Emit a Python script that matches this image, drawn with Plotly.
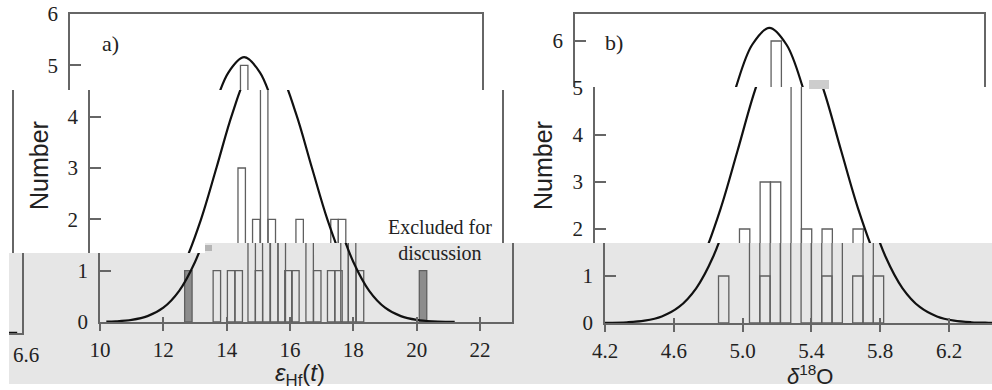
import plotly.graph_objects as go

W, H = 992, 390

# ---------------- (a) Hf isotopes ----------------
hf_bins = [13.69, 14.14, 14.38, 14.79, 15.02, 15.25, 15.50, 15.74, 15.95,
           16.17, 16.62, 16.86, 17.30, 17.53, 17.72, 17.96, 18.21]
hf_counts = [1, 1, 1, 3, 1, 2, 5, 2, 1, 1, 2, 1, 1, 1, 2, 2, 1]
hf_excl_bins = [12.79, 20.20]
hf_excl_counts = [1, 1]
hf_fit_x = [10.2, 10.5, 11.0, 11.5, 12.0, 12.5, 13.0, 13.5, 14.0, 14.5, 15.0, 15.5,
            16.0, 16.5, 17.0, 17.5, 18.0, 18.5, 19.0, 19.5, 20.0, 20.5, 21.0, 21.2]
hf_fit_y = [0.006, 0.013, 0.042, 0.115, 0.280, 0.608, 1.17, 1.99, 3.02, 4.07, 4.86, 5.16,
            4.86, 4.07, 3.02, 1.99, 1.17, 0.608, 0.280, 0.115, 0.042, 0.013, 0.004, 0.002]
hf_xticks = [10, 12, 14, 16, 18, 20, 22]
hf_yticks = [0, 1, 2, 3, 4, 5, 6]

# ---------------- (b) O isotopes ----------------
o_bins = [4.89, 5.07, 5.13, 5.19, 5.25, 5.37, 5.43, 5.49, 5.55, 5.67, 5.73, 5.79]
o_counts = [1, 2, 1, 3, 3, 6, 2, 1, 2, 1, 2, 1]
o_fit_x = [4.20, 4.33, 4.43, 4.53, 4.63, 4.73, 4.83, 4.93, 5.03, 5.13, 5.23, 5.33,
           5.43, 5.53, 5.63, 5.73, 5.83, 5.93, 6.03, 6.13, 6.23, 6.33, 6.43, 6.55]
o_fit_y = [0.003, 0.016, 0.051, 0.140, 0.341, 0.739, 1.42, 2.43, 3.68, 4.95, 5.92, 6.28,
           5.92, 4.95, 3.68, 2.43, 1.42, 0.739, 0.341, 0.140, 0.051, 0.016, 0.005, 0.001]
o_xticks = [4.2, 4.6, 5.0, 5.4, 5.8, 6.2, 6.6]
o_xtick_text = ["4.2", "4.6", "5.0", "5.4", "5.8", "6.2", "6.6"]
o_yticks = [0, 1, 2, 3, 4, 5, 6]

# ---------------- panel geometry (pixels) ----------------
PANELS = {
    "a": dict(px0=70, xv0=10.0, xscale=31.67, xmax=23.0, py0=322, yscale=51.33,
              bins=hf_bins, counts=hf_counts, width=0.235,
              excl=(hf_excl_bins, hf_excl_counts),
              fit=(hf_fit_x, hf_fit_y), xt=hf_xticks,
              xtt=[str(v) for v in hf_xticks], yt=hf_yticks),
    "b": dict(px0=575, xv0=4.2, xscale=172.0, xmax=6.58, py0=323, yscale=47.0,
              bins=o_bins, counts=o_counts, width=0.06, excl=None,
              fit=(o_fit_x, o_fit_y), xt=o_xticks, xtt=o_xtick_text, yt=o_yticks),
}


def frame_right(p, dx):
    P = PANELS[p]
    return P["px0"] + (P["xmax"] - P["xv0"]) * P["xscale"] + dx


# horizontal strips of the figure, each shifted sideways
PIECES = [
    # panel, x0, x1, y0, y1, dx, dy, left, right, top, bottom
    ("a", 70, frame_right("a", 0), 14, 90, 0, 0, True, True, True, False),
    ("a", 90, 205, 90, 253, 20, 0, True, False, False, False),
    ("a", 205, frame_right("a", 20), 90, 243, 20, 0, False, True, False, False),
    ("a", 100, 205, 253, 322, 30, 0, True, False, False, True),
    ("a", 205, frame_right("a", 30), 243, 322, 30, 0, False, True, False, True),
    ("b", 575, frame_right("b", 0), 14, 87, 0, 0, True, True, True, False),
    ("b", 595, W, 87, 243, 20, 0, True, False, False, False),
    ("b", 0, frame_right("b", 20 - W), 90, 253, 20 - W, 0, False, True, False, False),
    ("b", 605, W, 243, 323, 30, 0, True, False, False, True),
    ("b", 9, frame_right("b", 30 - W), 253, 333, 30 - W, 10, False, True, False, True),
]

AXIS_COLOR = "#666666"
TICK_FONT = dict(family="Liberation Serif", size=21, color="#222222")
BAR_LINE = "#5f5f5f"

fig = go.Figure()
layout = {}
k = 0
for (p, sx0, sx1, sy0, sy1, dx, dy, left, right, top, bottom) in PIECES:
    P = PANELS[p]
    k += 1
    xr = [P["xv0"] + (sx0 - dx - P["px0"]) / P["xscale"],
          P["xv0"] + (sx1 - dx - P["px0"]) / P["xscale"]]
    yr = [(P["py0"] + dy - sy1) / P["yscale"], (P["py0"] + dy - sy0) / P["yscale"]]
    xname, yname = f"x{k}", f"y{k}"
    xd = [sx0 / W, sx1 / W]
    yd = [1 - sy1 / H, 1 - sy0 / H]

    xa = dict(domain=xd, range=xr, anchor=yname, showgrid=False, zeroline=False,
              fixedrange=True, automargin=False, showline=False, ticks="",
              showticklabels=False)
    if bottom:
        tv = [v for v in P["xt"] if xr[0] - 1e-9 <= v <= xr[1] + 1e-9]
        tt = [P["xtt"][P["xt"].index(v)] for v in tv]
        xa.update(showline=True, linecolor=AXIS_COLOR, linewidth=1.5,
                  ticks="outside", ticklen=7, tickwidth=1.5, tickcolor=AXIS_COLOR,
                  tickmode="array", tickvals=tv, ticktext=tt, showticklabels=True,
                  tickfont=TICK_FONT, ticklabelstandoff=1)
    elif top:
        xa.update(side="top", showline=True, linecolor=AXIS_COLOR, linewidth=1.5)

    ya = dict(domain=yd, range=yr, anchor=xname, showgrid=False, zeroline=False,
              fixedrange=True, automargin=False, showline=False, ticks="",
              showticklabels=False)
    if left:
        tv = [v for v in P["yt"] if yr[0] - 1e-9 <= v <= yr[1] + 1e-9]
        ya.update(showline=True, mirror=right, linecolor=AXIS_COLOR, linewidth=1.5,
                  ticks="inside", ticklen=11, tickwidth=1.5, tickcolor=AXIS_COLOR,
                  tickmode="array", tickvals=tv, showticklabels=True,
                  tickfont=TICK_FONT, ticklabelstandoff=6)
    elif right:
        ya.update(side="right", showline=True, linecolor=AXIS_COLOR, linewidth=1.5)

    layout["xaxis" if k == 1 else f"xaxis{k}"] = xa
    layout["yaxis" if k == 1 else f"yaxis{k}"] = ya
    xref = "x" if k == 1 else xname
    yref = "y" if k == 1 else yname

    fig.add_trace(go.Bar(x=P["bins"], y=P["counts"], width=P["width"],
                         marker=dict(color="rgba(0,0,0,0)",
                                     line=dict(color=BAR_LINE, width=1.3)),
                         xaxis=xref, yaxis=yref, showlegend=False, hoverinfo="skip"))
    if P["excl"]:
        fig.add_trace(go.Bar(x=P["excl"][0], y=P["excl"][1], width=P["width"],
                             marker=dict(color="#8c8c8c",
                                         line=dict(color=BAR_LINE, width=1.3)),
                             xaxis=xref, yaxis=yref, showlegend=False,
                             hoverinfo="skip"))
    fig.add_trace(go.Scatter(x=P["fit"][0], y=P["fit"][1], mode="lines",
                             line=dict(color="#111111", width=2.2, shape="spline"),
                             xaxis=xref, yaxis=yref, showlegend=False,
                             hoverinfo="skip"))

    if bottom:
        # second copy of the x axis so that ticks cross the axis line
        k += 1
        layout[f"xaxis{k}"] = dict(overlaying=xref, range=xr, anchor=yref,
                                   showgrid=False, zeroline=False, fixedrange=True,
                                   automargin=False, showline=False,
                                   ticks="inside", ticklen=5,
                                   tickwidth=1.5, tickcolor=AXIS_COLOR,
                                   tickmode="array",
                                   tickvals=[v for v in P["xt"]
                                             if xr[0] - 1e-9 <= v <= xr[1] + 1e-9],
                                   showticklabels=False)
        layout[f"yaxis{k}"] = dict(overlaying=yref, range=yr, anchor=f"x{k}",
                                   visible=False, fixedrange=True, automargin=False)
        fig.add_trace(go.Scatter(x=[], y=[], xaxis=f"x{k}", yaxis=f"y{k}",
                                 showlegend=False))


def paper(px, py):
    return px / W, 1 - py / H


annotations = []


def label(text, px, py, size, family, angle=0, color="#222222"):
    x, y = paper(px, py)
    annotations.append(dict(text=text, x=x, y=y, xref="paper", yref="paper",
                            showarrow=False, textangle=angle, xanchor="center",
                            yanchor="middle",
                            font=dict(family=family, size=size, color=color)))


SERIF = "Liberation Serif"
SANS = "Liberation Sans"
label("a)", 110, 43, 22, SERIF)
label("b)", 614, 42, 22, SERIF)
label("Number", 39, 166, 25, SANS, angle=-90)
label("Number", 543, 166, 25, SANS, angle=-90)
label("<i>ε</i><sub>Hf</sub>(<i>t</i>)", 300, 374, 24, SANS)
label("<i>δ</i><sup>18</sup>O", 810, 375, 22, SANS)
label("Excluded for<br>discussion", 440, 240, 20, SERIF)
# tick label of the wrapped (b) axis end
Pb = PANELS["b"]
label(o_xtick_text[-1], Pb["px0"] + (o_xticks[-1] - Pb["xv0"]) * Pb["xscale"] + 30 - W,
      355, 21, SERIF)

shapes = [
    dict(type="rect", xref="paper", yref="paper", layer="below",
         x0=9 / W, x1=205 / W, y0=1 - 384 / H, y1=1 - 253 / H,
         fillcolor="#e6e6e6", line=dict(width=0)),
    dict(type="rect", xref="paper", yref="paper", layer="below",
         x0=205 / W, x1=1, y0=1 - 384 / H, y1=1 - 243 / H,
         fillcolor="#e6e6e6", line=dict(width=0)),
    dict(type="rect", xref="paper", yref="paper", layer="above",
         x0=205 / W, x1=212 / W, y0=1 - 251 / H, y1=1 - 245 / H,
         fillcolor="#b5b5b5", line=dict(width=0)),
    dict(type="rect", xref="paper", yref="paper", layer="above",
         x0=809 / W, x1=829 / W, y0=1 - 89 / H, y1=1 - 80 / H,
         fillcolor="#cdcdcd", line=dict(width=0)),
]

fig.update_layout(
    template="none",
    width=W, height=H, margin=dict(l=0, r=0, t=0, b=0, pad=0),
    paper_bgcolor="white", plot_bgcolor="rgba(0,0,0,0)",
    barmode="overlay", showlegend=False,
    annotations=annotations, shapes=shapes, **layout,
)

fig.write_html("out.html")
